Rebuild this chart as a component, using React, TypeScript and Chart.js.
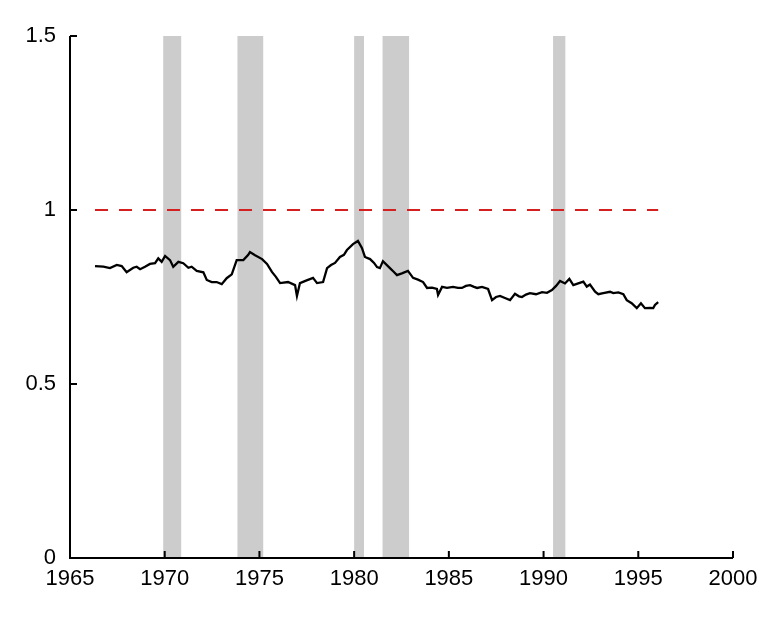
import React, { useEffect, useRef } from "react";
import { Chart, registerables } from "chart.js";

Chart.register(...registerables);

const years: number[] = [
  1966.32, 1966.76, 1967.11, 1967.47, 1967.73, 1967.99, 1968.34, 1968.52, 1968.7, 1968.96,
  1969.22, 1969.49, 1969.66, 1969.84, 1970.02, 1970.28, 1970.45, 1970.72, 1970.98, 1971.25,
  1971.42, 1971.69, 1972.04, 1972.22, 1972.48, 1972.74, 1973.01, 1973.27, 1973.54, 1973.8,
  1974.15, 1974.41, 1974.5, 1974.77, 1975.14, 1975.4, 1975.66, 1975.87, 1976.09, 1976.51,
  1976.88, 1976.98, 1977.14, 1977.46, 1977.83, 1978.04, 1978.36, 1978.57, 1978.78, 1978.99,
  1979.25, 1979.46, 1979.62, 1979.94, 1980.2, 1980.41, 1980.57, 1980.84, 1981.05, 1981.21,
  1981.36, 1981.52, 1981.89, 1982.1, 1982.26, 1982.52, 1982.84, 1983.11, 1983.37, 1983.64,
  1983.85, 1984.11, 1984.37, 1984.43, 1984.64, 1984.9, 1985.22, 1985.48, 1985.69, 1985.9,
  1986.12, 1986.33, 1986.49, 1986.75, 1987.07, 1987.28, 1987.49, 1987.7, 1987.96, 1988.23,
  1988.49, 1988.7, 1988.86, 1989.07, 1989.28, 1989.6, 1989.92, 1990.18, 1990.44, 1990.66,
  1990.87, 1991.13, 1991.36, 1991.57, 1991.83, 1992.1, 1992.28, 1992.45, 1992.72, 1992.89,
  1993.15, 1993.51, 1993.68, 1993.95, 1994.21, 1994.39, 1994.65, 1994.92, 1995.14, 1995.35,
  1995.62, 1995.79, 1995.88, 1996.05,
];

const ratio: number[] = [
  0.839, 0.837, 0.833, 0.842, 0.839, 0.821, 0.834, 0.837, 0.83, 0.837,
  0.845, 0.847, 0.861, 0.851, 0.868, 0.856, 0.837, 0.851, 0.847, 0.834,
  0.837, 0.825, 0.821, 0.799, 0.793, 0.793, 0.787, 0.804, 0.815, 0.856,
  0.856, 0.871, 0.879, 0.87, 0.859, 0.845, 0.822, 0.808, 0.79, 0.793,
  0.784, 0.753, 0.79, 0.797, 0.805, 0.79, 0.793, 0.833, 0.842, 0.848,
  0.865, 0.871, 0.885, 0.902, 0.911, 0.891, 0.865, 0.859, 0.848, 0.836,
  0.833, 0.853, 0.833, 0.822, 0.813, 0.818, 0.825, 0.805, 0.8, 0.793,
  0.776, 0.777, 0.773, 0.756, 0.779, 0.776, 0.779, 0.776, 0.776, 0.782,
  0.784, 0.779, 0.776, 0.779, 0.773, 0.741, 0.75, 0.753, 0.747, 0.741,
  0.759, 0.752, 0.75, 0.757, 0.761, 0.758, 0.764, 0.762, 0.77, 0.782,
  0.796, 0.789, 0.802, 0.784, 0.789, 0.794, 0.78, 0.786, 0.765, 0.758,
  0.761, 0.765, 0.761, 0.763, 0.758, 0.741, 0.732, 0.718, 0.732, 0.718,
  0.719, 0.718, 0.727, 0.735,
];

const referenceYears: number[] = [1966.32, 1996.05];
const referenceLevel: number[] = [1, 1];

const recessionStart: number[] = [1969.92, 1973.84, 1980.0, 1981.5, 1990.5];
const recessionEnd: number[] = [1970.87, 1975.2, 1980.52, 1982.9, 1991.15];

const xTicks: number[] = [1965, 1970, 1975, 1980, 1985, 1990, 1995, 2000];
const yTicks: number[] = [0, 0.5, 1, 1.5];

const FONT = "Liberation Sans, Arial, sans-serif";

export default function App() {
  const ref = useRef<HTMLCanvasElement | null>(null);

  useEffect(() => {
    if (!ref.current) return;

    const bands = {
      id: "bands",
      beforeDatasetsDraw(chart: any) {
        const { ctx, chartArea, scales } = chart;
        ctx.save();
        ctx.fillStyle = "#cccccc";
        recessionStart.forEach((s, i) => {
          const x0 = scales.x.getPixelForValue(s);
          const x1 = scales.x.getPixelForValue(recessionEnd[i]);
          ctx.fillRect(x0, chartArea.top, x1 - x0, chartArea.bottom - chartArea.top);
        });
        ctx.restore();
      },
    };

    const axes = {
      id: "axes",
      afterDatasetsDraw(chart: any) {
        const { ctx, chartArea, scales } = chart;
        ctx.save();
        ctx.strokeStyle = "#000";
        ctx.lineWidth = 2;
        ctx.beginPath();
        ctx.moveTo(chartArea.left, chartArea.top);
        ctx.lineTo(chartArea.left, chartArea.bottom);
        ctx.lineTo(chartArea.right, chartArea.bottom);
        ctx.stroke();
        ctx.beginPath();
        yTicks.forEach((v) => {
          const y = scales.y.getPixelForValue(v);
          ctx.moveTo(chartArea.left, y);
          ctx.lineTo(chartArea.left + 7, y);
        });
        xTicks.forEach((v) => {
          const x = scales.x.getPixelForValue(v);
          ctx.moveTo(x, chartArea.bottom);
          ctx.lineTo(x, chartArea.bottom - 7);
        });
        ctx.stroke();
        ctx.restore();
      },
    };

    const chart = new Chart(ref.current, {
      type: "line",
      data: {
        datasets: [
          {
            data: years.map((x, i) => ({ x, y: ratio[i] })),
            borderColor: "#000000",
            borderWidth: 2.3,
            pointRadius: 0,
            tension: 0,
            fill: false,
          },
          {
            data: referenceYears.map((x, i) => ({ x, y: referenceLevel[i] })),
            borderColor: "#d42020",
            borderWidth: 2,
            borderDash: [13, 11],
            pointRadius: 0,
            fill: false,
          },
        ],
      },
      options: {
        responsive: false,
        animation: false,
        layout: { padding: { top: 36, right: 48, left: 0, bottom: 0 } },
        plugins: { legend: { display: false }, tooltip: { enabled: false } },
        scales: {
          x: {
            type: "linear",
            min: 1965,
            max: 2000,
            grid: { display: false },
            border: { display: false },
            afterBuildTicks: (s: any) => {
              s.ticks = xTicks.map((v) => ({ value: v }));
            },
            afterFit: (s: any) => {
              s.height = 61;
            },
            ticks: {
              color: "#000",
              padding: 0,
              maxRotation: 0,
              font: { family: FONT, size: 22 },
              callback: (v: any) => String(v),
            },
          },
          y: {
            type: "linear",
            min: 0,
            max: 1.5,
            grid: { display: false },
            border: { display: false },
            afterBuildTicks: (s: any) => {
              s.ticks = yTicks.map((v) => ({ value: v }));
            },
            afterFit: (s: any) => {
              s.width = 70;
            },
            ticks: {
              color: "#000",
              padding: 6,
              font: { family: FONT, size: 22 },
              callback: (v: any) => String(v),
            },
          },
        },
      },
      plugins: [bands, axes],
    });
    return () => chart.destroy();
  }, []);

  return (
    <div style={{ position: "fixed", left: 0, top: 0, width: 781, height: 619, background: "#fff" }}>
      <canvas ref={ref} width={781} height={619} />
    </div>
  );
}
